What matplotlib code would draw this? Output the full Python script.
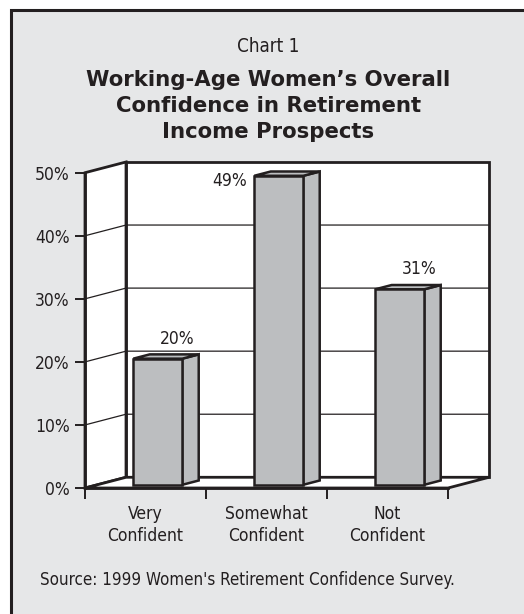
import matplotlib.pyplot as plt
from matplotlib.patches import Polygon, Rectangle

categories = ["Very\nConfident", "Somewhat\nConfident", "Not\nConfident"]
shares = [20, 49, 31]
yticks = [0, 10, 20, 30, 40, 50]

ink = "#231f20"
panel = "#e6e7e8"
bar_grey = "#bcbec0"

plt.rcParams["font.family"] = ["Liberation Sans Narrow", "DejaVu Sans"]
plt.rcParams["font.stretch"] = "condensed"
fs = 12.5

W, H = 524, 614
fig = plt.figure(figsize=(W / 100, H / 100), dpi=100)
fig.patch.set_facecolor("white")

# grey panel with a dark frame, running off the right and bottom edges
fig.patches.append(Rectangle((10.5 / W, -0.1), 1.2, 1.1 - 10.5 / H,
                             transform=fig.transFigure, fc=panel, ec=ink,
                             lw=2.2, zorder=-10))

ax = fig.add_axes([85 / W, 1 - 488 / H, 363 / W, 315.3 / H])
ax.set_xlim(-0.5, 2.5)
ax.set_ylim(0, 50)
ax.patch.set_visible(False)

# fake 3d: depth offset in data units
dx, dy = 0.339, 1.7
x0, x1, ytop = -0.5, 2.5, 50

def poly(pts, **kw):
    kw.setdefault("fc", "white")
    kw.setdefault("ec", ink)
    kw.setdefault("lw", 2.0)
    p = Polygon(pts, closed=True, clip_on=False, joinstyle="miter", **kw)
    ax.add_patch(p)
    return p

poly([(x0 + dx, dy), (x1 + dx, dy), (x1 + dx, ytop + dy), (x0 + dx, ytop + dy)], zorder=1)
poly([(x0, 0), (x0 + dx, dy), (x0 + dx, ytop + dy), (x0, ytop)], zorder=1)
poly([(x0, 0), (x1, 0), (x1 + dx, dy), (x0 + dx, dy)], zorder=1.5)

for v in yticks[1:-1]:
    ax.plot([x0, x0 + dx, x1 + dx], [v, v + dy, v + dy], color=ink, lw=0.9,
            zorder=1.2, clip_on=False)

# bars sit in the middle of the floor depth
w = 0.405
z0, z1 = 0.3, 0.7
ddx, ddy = (z1 - z0) * dx, (z1 - z0) * dy
for i, v in enumerate(shares):
    bx = i - w / 2 + z0 * dx
    by = z0 * dy
    style = dict(fc=bar_grey, ec=ink, lw=1.8, zorder=3)
    poly([(bx + w, by), (bx + w + ddx, by + ddy), (bx + w + ddx, by + v + ddy), (bx + w, by + v)], **style)
    poly([(bx, by + v), (bx + w, by + v), (bx + w + ddx, by + v + ddy), (bx + ddx, by + v + ddy)], **style)
    poly([(bx, by), (bx + w, by), (bx + w, by + v), (bx, by + v)], **style)
    if v + 5 > ytop:
        ax.text(bx - 0.06, by + v + 0.6, f"{v}%", ha="right", va="top",
                fontsize=fs, color=ink, zorder=4)
    else:
        ax.text(i + 0.26, v + 3.7, f"{v}%", ha="center", va="center",
                fontsize=fs, color=ink, zorder=4)

for side in ("top", "right"):
    ax.spines[side].set_visible(False)
for side in ("left", "bottom"):
    ax.spines[side].set_color(ink)
    ax.spines[side].set_linewidth(2.0)
    ax.spines[side].set_zorder(5)

ax.set_yticks(yticks, [f"{t}%" for t in yticks])
ax.tick_params(axis="y", length=7, width=1.4, color=ink, pad=4,
               labelsize=fs, labelcolor=ink)
ax.set_xticks([-0.5, 0.5, 1.5, 2.5], [])
ax.set_xticks(range(len(categories)), categories, minor=True)
ax.tick_params(axis="x", which="major", length=8, width=1.4, color=ink)
ax.tick_params(axis="x", which="minor", length=0, pad=12, labelsize=fs,
               labelcolor=ink)
for lab in ax.get_xticklabels(minor=True):
    lab.set_linespacing(1.28)

fig.text(0.512, 1 - 47 / H, "Chart 1", ha="center", va="center",
         fontsize=13.5, color=ink)
fig.text(0.512, 1 - 106 / H,
         "Working-Age Women\u2019s Overall\nConfidence in Retirement\nIncome Prospects",
         ha="center", va="center", fontsize=15.3, fontweight="bold",
         family="DejaVu Sans", stretch="normal", linespacing=1.38, color=ink)
fig.text(40 / W, 1 - 580 / H,
         "Source: 1999 Women's Retirement Confidence Survey.",
         ha="left", va="center", fontsize=12.2, color=ink)

fig.savefig("out.png", dpi=100)
